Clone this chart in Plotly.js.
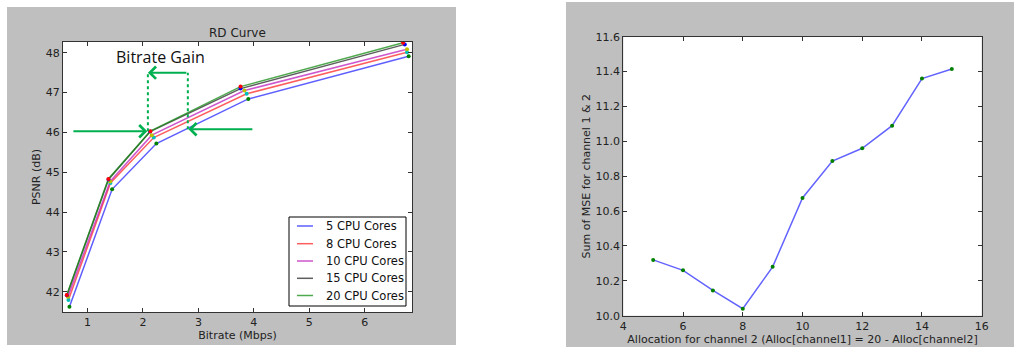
<!DOCTYPE html>
<html>
<head>
<meta charset="utf-8">
<script src="https://cdn.plot.ly/plotly-3.0.1.min.js"></script>
<style>html,body{margin:0;padding:0;background:#fff;}#chart{width:1014px;height:347px;}</style>
</head>
<body>
<div id="chart"></div>
<script>
// ---- Left chart: RD Curve ----
const seriesNames = ["5 CPU Cores", "8 CPU Cores", "10 CPU Cores", "15 CPU Cores", "20 CPU Cores"];
const bitrate5  = [0.676, 1.445, 2.243, 3.90, 6.79];
const psnr5     = [41.62, 44.57, 45.72, 46.84, 47.91];
const bitrate8  = [0.658, 1.415, 2.196, 3.87, 6.76];
const psnr8     = [41.79, 44.73, 45.87, 46.97, 48.01];
const bitrate10 = [0.647, 1.41, 2.16, 3.83, 6.76];
const psnr10    = [41.87, 44.77, 45.93, 47.05, 48.09];
const bitrate15 = [0.63, 1.38, 2.13, 3.76, 6.72];
const psnr15    = [41.91, 44.82, 46.02, 47.10, 48.21];
const bitrate20 = [0.628, 1.378, 2.135, 3.76, 6.69];
const psnr20    = [41.92, 44.83, 46.03, 47.15, 48.25];

// ---- Right chart: MSE vs allocation ----
const allocation = [5, 6, 7, 8, 9, 10, 11, 12, 13, 14, 15];
const mseSum = [10.32, 10.26, 10.145, 10.04, 10.28, 10.675, 10.887, 10.96, 11.09, 11.36, 11.415];

const lineColors = ["rgba(40,40,255,0.75)", "rgba(255,40,40,0.75)", "rgba(190,30,190,0.75)", "rgba(40,40,40,0.75)", "rgba(20,140,20,0.75)"];
const markerColors = ["#008000", "#00bfbf", "#bfbf00", "#0000ff", "#ff0000"];
const xs = [bitrate5, bitrate8, bitrate10, bitrate15, bitrate20];
const ys = [psnr5, psnr8, psnr10, psnr15, psnr20];

const traces = [];
for (let i = 0; i < 5; i++) {
  traces.push({x: xs[i], y: ys[i], type: "scatter", mode: "lines", name: seriesNames[i],
    line: {color: lineColors[i], width: 1.5}, xaxis: "x", yaxis: "y", showlegend: false});
}
for (let i = 0; i < 5; i++) {
  traces.push({x: xs[i], y: ys[i], type: "scatter", mode: "markers", showlegend: false,
    marker: {color: markerColors[i], size: 4}, xaxis: "x", yaxis: "y", hoverinfo: "skip"});
}
traces.push({x: allocation, y: mseSum, type: "scatter", mode: "lines+markers", showlegend: false,
  line: {color: "rgba(60,60,255,0.8)", width: 1.5}, marker: {color: "#008000", size: 4},
  xaxis: "x2", yaxis: "y2"});

const W = 1014, H = 347;
const px = v => v / W, py = v => 1 - v / H;
const tickFont = {family: "DejaVu Sans", size: 11, color: "#222"};
const arrowGreen = "#00b050";

const axisCommon = {
  showgrid: false, zeroline: false, showline: true, linecolor: "#333", linewidth: 1,
  mirror: "ticks", ticks: "inside", ticklen: 4, tickcolor: "#333", tickfont: tickFont
};
const titleFont = {size: 11, family: "DejaVu Sans", color: "#222"};

const shapes = [
  {type: "rect", xref: "paper", yref: "paper", x0: px(7), x1: px(456), y0: py(345), y1: py(7),
    fillcolor: "#bfbfbf", line: {width: 0}, layer: "below"},
  {type: "rect", xref: "paper", yref: "paper", x0: px(566), x1: 1, y0: 0, y1: py(2),
    fillcolor: "#bfbfbf", line: {width: 0}, layer: "below"},
  {type: "rect", xref: "paper", yref: "paper", x0: px(63), x1: px(412), y0: py(312), y1: py(42),
    fillcolor: "#ffffff", line: {width: 0}, layer: "below"},
  {type: "rect", xref: "paper", yref: "paper", x0: px(623.3), x1: px(981.7), y0: py(315.7), y1: py(36.7),
    fillcolor: "#ffffff", line: {width: 0}, layer: "below"},
  {type: "line", xref: "x", yref: "y", x0: 2.09, x1: 2.09, y0: 46.03, y1: 47.5,
    line: {color: arrowGreen, width: 2, dash: "dot"}},
  {type: "line", xref: "x", yref: "y", x0: 2.81, x1: 2.81, y0: 46.08, y1: 47.5,
    line: {color: arrowGreen, width: 2, dash: "dot"}},
  // legend box
  {type: "rect", xref: "paper", yref: "paper", x0: px(289), x1: px(406), y0: py(306), y1: py(217),
    fillcolor: "#ffffff", line: {color: "#000", width: 1}}
];
const annotations = [
  {text: "RD Curve", xref: "paper", yref: "paper", x: px(237.5), y: py(33), xanchor: "center", yanchor: "middle",
    showarrow: false, font: {family: "DejaVu Sans", size: 12, color: "#222"}},
  {text: "Bitrate Gain", xref: "paper", yref: "paper", x: px(160), y: py(57), xanchor: "center", yanchor: "middle",
    showarrow: false, font: {family: "Open Sans", size: 16, color: "#111"}},
  {xref: "x", yref: "y", axref: "x", ayref: "y", x: 2.08, y: 46.03, ax: 0.72, ay: 46.03,
    showarrow: true, arrowhead: 4, arrowsize: 1.2, arrowwidth: 2, arrowcolor: arrowGreen, text: ""},
  {xref: "x", yref: "y", axref: "x", ayref: "y", x: 2.82, y: 46.08, ax: 4.0, ay: 46.08,
    showarrow: true, arrowhead: 4, arrowsize: 1.2, arrowwidth: 2, arrowcolor: arrowGreen, text: ""},
  {xref: "x", yref: "y", axref: "x", ayref: "y", x: 2.09, y: 47.5, ax: 2.81, ay: 47.5,
    showarrow: true, arrowhead: 4, arrowsize: 1.2, arrowwidth: 2, arrowcolor: arrowGreen, text: ""}
];
// custom legend entries
const legendRowY = [226, 243.7, 261, 278.3, 295.5];
for (let i = 0; i < 5; i++) {
  shapes.push({type: "line", xref: "paper", yref: "paper", x0: px(297), x1: px(313),
    y0: py(legendRowY[i]), y1: py(legendRowY[i]), line: {color: lineColors[i], width: 1.5}});
  annotations.push({text: seriesNames[i], xref: "paper", yref: "paper", x: px(324), y: py(legendRowY[i]),
    xanchor: "left", yanchor: "middle", showarrow: false,
    font: {family: "DejaVu Sans", size: 11.5, color: "#111"}});
}

const layout = {
  width: W, height: H,
  margin: {l: 0, r: 0, t: 0, b: 0},
  paper_bgcolor: "#ffffff", plot_bgcolor: "rgba(0,0,0,0)",
  showlegend: false,
  font: {family: "DejaVu Sans", color: "#222"},
  xaxis: Object.assign({}, axisCommon, {domain: [px(63), px(412)], range: [0.56, 6.85],
    tickvals: [1, 2, 3, 4, 5, 6], anchor: "y",
    title: {text: "Bitrate (Mbps)", font: titleFont, standoff: 2}}),
  yaxis: Object.assign({}, axisCommon, {domain: [py(312), py(42)], range: [41.49, 48.27],
    tickvals: [42, 43, 44, 45, 46, 47, 48], anchor: "x",
    title: {text: "PSNR (dB)", font: titleFont, standoff: 2}}),
  xaxis2: Object.assign({}, axisCommon, {domain: [px(623.3), px(981.7)], range: [4, 16],
    tickvals: [4, 6, 8, 10, 12, 14, 16], anchor: "y2",
    title: {text: "Allocation for channel 2 (Alloc[channel1] = 20 - Alloc[channel2]", font: titleFont, standoff: 2}}),
  yaxis2: Object.assign({}, axisCommon, {domain: [py(315.7), py(36.7)], range: [10, 11.6],
    tickvals: [10, 10.2, 10.4, 10.6, 10.8, 11, 11.2, 11.4, 11.6], tickformat: ".1f", anchor: "x2",
    title: {text: "Sum of MSE for channel 1 & 2", font: titleFont, standoff: 2}}),
  shapes: shapes,
  annotations: annotations
};

Plotly.newPlot("chart", traces, layout, {displayModeBar: false, staticPlot: true});
</script>
</body>
</html>
